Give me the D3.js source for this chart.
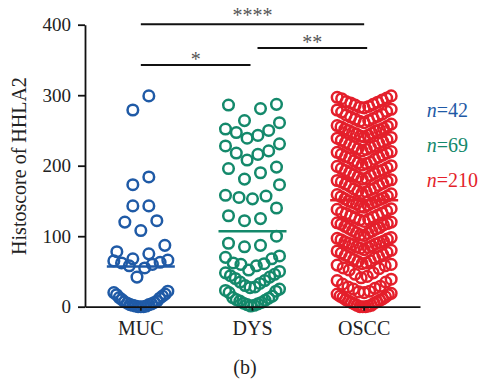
<!DOCTYPE html>
<html>
<head>
<meta charset="utf-8">
<script src="https://cdn.jsdelivr.net/npm/d3@7"></script>
<style>
  body { margin: 0; background: #fff; }
  svg { display: block; font-family: "Liberation Serif", "Times New Roman", serif; }
</style>
</head>
<body>
<div id="chart"></div>
<script>
// ---- data ----
const groups = ["MUC", "DYS", "OSCC"];
const colors = ["#1f5aa6", "#14896b", "#e41f2b"];

const mucValues = [299, 279, 184, 173, 143, 143, 122, 120, 108, 87, 78, 75, 68, 66,
  65, 63, 62, 60, 58, 55, 42,
  0, 0, 0, 1, 1, 2, 3, 3, 4, 5, 6, 7, 8, 10, 12, 13, 15, 17, 18, 20, 22];

const dysValues = [287, 281, 286, 264, 261, 250, 247, 252, 243, 239, 231, 228, 221, 218,
  216, 208, 198, 196, 190, 181, 173, 157, 155, 153, 158, 140, 129, 125, 122, 100,
  90, 87, 85, 72, 70, 68, 62, 60, 58, 61, 48, 46, 44, 50, 37, 35, 33, 25, 23,
  52, 42, 40, 30, 28, 27, 22, 20,
  15, 13, 12, 10, 9, 8, 6, 5, 4, 3, 2, 1];

const osccValues = [0, 0, 0, 1, 2, 2, 4, 5, 6, 7, 8, 9,
  10, 11, 13, 14, 15, 17, 18, 19,
  20, 21, 22, 25, 26, 28, 29,
  32, 35, 37, 39,
  41, 43, 46, 48,
  52, 54, 55, 58, 59,
  60, 61, 62, 64, 65, 67, 69,
  70, 71, 73, 74, 76, 77, 79,
  80, 81, 83, 84, 85, 86, 88, 89,
  90, 91, 92, 93, 95, 96, 97, 98,
  101, 102, 104, 105, 107, 108, 110,
  111, 112, 114, 116, 117, 118, 119,
  120, 121, 123, 124, 126, 127, 129,
  130, 132, 133, 134, 136, 138, 139,
  141, 142, 144, 146, 147, 148, 149,
  150, 152, 153, 154, 156, 157, 159,
  160, 161, 163, 164, 166, 167, 168,
  171, 172, 174, 175, 177, 178, 179,
  180, 181, 182, 184, 186, 187, 189,
  190, 192, 193, 194, 196, 197, 199,
  200, 201, 203, 204, 205, 207, 209,
  211, 212, 213, 215, 216, 218, 219,
  220, 221, 223, 224, 226, 227, 228,
  230, 232, 233, 234, 236, 237, 239,
  240, 241, 242, 243, 245, 246, 247, 249,
  250, 251, 252, 253, 255, 256, 257, 259,
  261, 263, 264, 266, 267, 269,
  270, 272, 273, 276, 277, 279,
  280, 282, 283, 284, 286, 287, 289,
  290, 291, 293, 295, 296, 297, 299];

const means = [57, 107, 151];
const yTicks = [0, 100, 200, 300, 400];
const comparisons = [
  { a: "MUC", b: "DYS", label: "*" },
  { a: "DYS", b: "OSCC", label: "**" },
  { a: "MUC", b: "OSCC", label: "****" }
];

const series = [mucValues, dysValues, osccValues];
const rowHeights = [24, 24, 19];   // value span grouped into one scatter row

// ---- layout ----
const W = 479, H = 383;
const svg = d3.select("#chart").append("svg")
  .attr("width", W).attr("height", H);

const x = d3.scaleBand().domain(groups).range([85, 420]).padding(0);
const y = d3.scaleLinear().domain([0, 400]).range([306.7, 24.7]);
const cx = g => x(g) + x.bandwidth() / 2;

// Prism-like scatter: values grouped in rows, spread out from the centre
function spread(values, rowH) {
  const maxStep = 16, halfW = 27;
  const sorted = values.slice().sort((a, b) => a - b);
  const rows = [];
  sorted.forEach(v => {
    const last = rows[rows.length - 1];
    if (last && v - last[0] <= rowH) last.push(v);
    else rows.push([v]);
  });
  const out = [];
  rows.forEach(row => {
    const n = row.length;
    const step = n > 1 ? Math.min(maxStep, 2 * halfW / (n - 1)) : 0;
    row.forEach((v, i) => {
      let k;
      if (n % 2) k = i === 0 ? 0 : Math.ceil(i / 2) * (i % 2 ? -1 : 1);
      else k = (Math.floor(i / 2) + 0.5) * (i % 2 ? 1 : -1);
      out.push({ v, dx: k * step });
    });
  });
  return out;
}

// points
groups.forEach((g, gi) => {
  svg.append("g")
    .selectAll("circle")
    .data(spread(series[gi], rowHeights[gi]))
    .join("circle")
    .attr("cx", d => cx(g) + d.dx)
    .attr("cy", d => y(d.v))
    .attr("r", 5.3)
    .attr("fill", "none")
    .attr("stroke", colors[gi])
    .attr("stroke-width", 2.5);
});

// mean lines
svg.append("g")
  .selectAll("line")
  .data(groups)
  .join("line")
  .attr("x1", g => cx(g) - 34)
  .attr("x2", g => cx(g) + 34)
  .attr("y1", (g, i) => y(means[i]))
  .attr("y2", (g, i) => y(means[i]))
  .attr("stroke", (g, i) => colors[i])
  .attr("stroke-width", 2.5);

// axes
const yAxis = svg.append("g")
  .attr("transform", "translate(85,0)")
  .call(d3.axisLeft(y).tickValues(yTicks).tickSize(7).tickSizeOuter(0).tickPadding(7));
const xAxis = svg.append("g")
  .attr("transform", `translate(0,${y(0)})`)
  .call(d3.axisBottom(x).tickSize(4).tickSizeOuter(0).tickPadding(10));

[yAxis, xAxis].forEach(a => {
  a.select(".domain").attr("stroke", "#111").attr("stroke-width", 1.8);
  a.selectAll(".tick line").attr("stroke", "#111").attr("stroke-width", 1.8);
  a.selectAll("text").attr("fill", "#222").style("font-family", "Liberation Serif, serif");
});
yAxis.selectAll("text").style("font-size", "19px");
xAxis.selectAll("text").style("font-size", "20px");

svg.append("text")
  .attr("transform", "translate(26,166) rotate(-90)")
  .attr("text-anchor", "middle")
  .style("font-size", "20px")
  .attr("fill", "#222")
  .text("Histoscore of HHLA2");

// significance brackets
const bracketLevel = { "*": 343, "**": 367, "****": 400.5 };
const starGap = { "*": 8.3, "**": 8.4, "****": 12 };
comparisons.forEach(c => {
  let x1 = cx(c.a), x2 = cx(c.b);
  if (c.a === "MUC" && c.b === "DYS") x2 -= 2;
  if (c.a === "DYS") { x1 += 5; x2 += 3; }
  const ly = y(bracketLevel[c.label]);
  svg.append("line")
    .attr("x1", x1).attr("x2", x2).attr("y1", ly).attr("y2", ly)
    .attr("stroke", "#111").attr("stroke-width", 2);
  svg.append("text")
    .attr("x", (x1 + x2) / 2)
    .attr("y", ly - starGap[c.label] + 0.47 * 20)
    .attr("text-anchor", "middle")
    .style("font-size", "20px")
    .attr("fill", "#555")
    .text(c.label);
});

// n labels
const nY = [116.7, 151.7, 186.7];
groups.forEach((g, gi) => {
  const t = svg.append("text")
    .attr("x", 426.7).attr("y", nY[gi])
    .style("font-size", "20px")
    .attr("fill", colors[gi]);
  t.append("tspan").style("font-style", "italic").text("n");
  t.append("tspan").text("=" + series[gi].length);
});

// panel label
svg.append("text")
  .attr("x", 245).attr("y", 374)
  .attr("text-anchor", "middle")
  .style("font-size", "20px")
  .attr("fill", "#222")
  .text("(b)");
</script>
</body>
</html>
